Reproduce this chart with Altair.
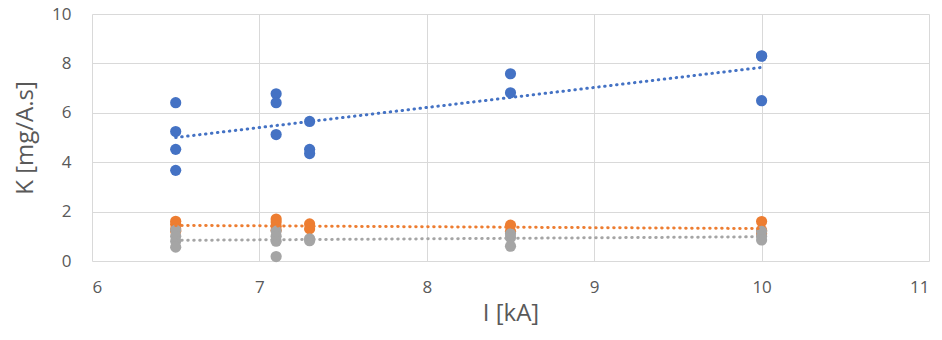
import altair as alt
import pandas as pd

blue_x = [6.5, 6.5, 6.5, 6.5, 7.1, 7.1, 7.1, 7.3, 7.3, 7.3, 8.5, 8.5, 10, 10, 10]
blue_y = [6.41, 5.24, 4.52, 3.67, 6.77, 6.41, 5.12, 5.65, 4.52, 4.35, 7.58, 6.81, 8.31, 8.29, 6.49]

orange_x = [6.5, 6.5, 6.5, 6.5, 7.1, 7.1, 7.1, 7.1, 7.3, 7.3, 8.5, 8.5, 10, 10, 10]
orange_y = [1.61, 1.49, 1.30, 1.20, 1.70, 1.58, 1.41, 1.25, 1.50, 1.30, 1.45, 1.20, 1.60, 1.25, 1.10]

gray_x = [6.5, 6.5, 6.5, 6.5, 7.1, 7.1, 7.1, 7.1, 7.3, 7.3, 8.5, 8.5, 8.5, 10, 10, 10]
gray_y = [1.25, 1.0, 0.8, 0.56, 1.21, 1.0, 0.8, 0.18, 0.9, 0.82, 1.1, 0.95, 0.6, 1.2, 1.0, 0.85]

series = ["A", "B", "C"]
colors = ["#4472C4", "#ED7D31", "#A5A5A5"]

rows = []
for name, xs, ys in zip(series, [blue_x, orange_x, gray_x], [blue_y, orange_y, gray_y]):
    for x, y in zip(xs, ys):
        rows.append({"s": name, "I": x, "K": y})
df = pd.DataFrame(rows)

font = "Open Sans"
xscale = alt.Scale(domain=[6, 11], nice=False)
yscale = alt.Scale(domain=[0, 10], nice=False)
cscale = alt.Scale(domain=series, range=colors)

base = alt.Chart(df)

points = base.mark_circle(size=125, opacity=1).encode(
    x=alt.X("I:Q", scale=xscale,
            axis=alt.Axis(title="I [kA]", values=[6, 7, 8, 9, 10, 11], format="d", grid=True,
                          gridColor="#d9d9d9", domain=False, ticks=False,
                          labelPadding=18, labelFontSize=17, labelColor="#595959",
                          titleFontSize=24, titleColor="#595959", titleFontWeight="normal",
                          titlePadding=6, labelFont=font, titleFont=font)),
    y=alt.Y("K:Q", scale=yscale,
            axis=alt.Axis(title="K [mg/A.s]", values=[0, 2, 4, 6, 8, 10], format="d", grid=True,
                          gridColor="#d9d9d9", domain=False, ticks=False,
                          labelPadding=21, labelFontSize=17, labelColor="#595959",
                          titleFontSize=24, titleColor="#595959", titleFontWeight="normal",
                          titlePadding=14, labelFont=font, titleFont=font)),
    color=alt.Color("s:N", scale=cscale, legend=None),
    order=alt.Order("s:N"),
)

lines = []
for name in series:
    ln = base.transform_filter(alt.datum.s == name).transform_regression(
        "I", "K"
    ).mark_line(strokeDash=[0.5, 5.5], strokeCap="round", strokeWidth=3).encode(
        x=alt.X("I:Q", scale=xscale),
        y=alt.Y("K:Q", scale=yscale),
        color=alt.value(colors[series.index(name)]),
    )
    lines.append(ln)

chart = alt.layer(points, *lines).properties(
    width=837, height=247,
    autosize=alt.AutoSizeParams(type="none"),
    padding={"left": 84, "top": 6, "right": 5, "bottom": 71},
).configure_view(stroke=None)

chart.save("out.html", embed_options={"renderer": "svg", "actions": False})
